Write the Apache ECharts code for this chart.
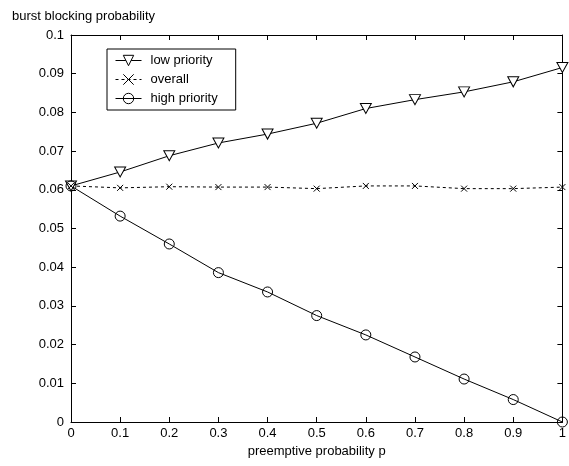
<!DOCTYPE html>
<html><head><meta charset="utf-8">
<script src="https://cdn.jsdelivr.net/npm/echarts@6/dist/echarts.min.js"></script>
<style>html,body{margin:0;padding:0;background:#fff}#c{width:569px;height:466px}</style>
</head><body><div id="c"></div>
<script>
var pValues = [0, 0.1, 0.2, 0.3, 0.4, 0.5, 0.6, 0.7, 0.8, 0.9, 1];
var lowPriority = [0.0610, 0.0646, 0.0688, 0.0721, 0.0744, 0.0772, 0.0810, 0.0833, 0.0853, 0.0879, 0.0916];
var overall = [0.0610, 0.0605, 0.0608, 0.0607, 0.0607, 0.0603, 0.0610, 0.0610, 0.0603, 0.0603, 0.0607];
var highPriority = [0.0610, 0.0532, 0.0460, 0.0386, 0.0336, 0.0275, 0.0225, 0.0168, 0.0111, 0.0058, 0.0000];
var seriesNames = ['low priority', 'overall', 'high priority'];

function pairs(v){ return pValues.map(function(x,i){ return [x, v[i]]; }); }
var font = 'Liberation Sans, Arial, sans-serif';
var chart = echarts.init(document.getElementById('c'), null, {renderer:'canvas'});
var triDown = 'path://M0,0L10,0L5,9Z';
var xMark = 'path://M0,0L10,10M10,0L0,10';
chart.setOption({
  animation:false,
  backgroundColor:'#fff',
  title:{text:'burst blocking probability', left:7, top:5,
    textStyle:{fontFamily:font, fontSize:13, fontWeight:'normal', color:'#000'}},
  legend:{
    data:seriesNames, orient:'vertical', left:107, top:49,
    width:133, padding:[5,18,5,8], itemGap:6, itemWidth:26, itemHeight:13,
    borderColor:'#000', borderWidth:1, backgroundColor:'#fff',
    lineStyle:{width:1},
    itemStyle:{borderWidth:1},
    textStyle:{fontFamily:font, fontSize:13, color:'#000', padding:[0,0,0,4]}
  },
  grid:{left:71, right:6, top:35, bottom:44, containLabel:false, show:false},
  xAxis:[{
    type:'value', min:0, max:1, interval:0.1, position:'bottom',
    name:'preemptive probability p', nameLocation:'middle', nameGap:22,
    nameTextStyle:{fontFamily:font, fontSize:13, color:'#000'},
    axisLine:{onZero:false, lineStyle:{color:'#000', width:1}},
    axisTick:{inside:true, length:5, lineStyle:{color:'#000'}},
    axisLabel:{fontFamily:font, fontSize:13, color:'#000', margin:5,
      formatter:function(v){ return String(+v.toFixed(1)); }},
    splitLine:{show:false}
  },{
    type:'value', min:0, max:1, interval:0.1, position:'top',
    axisLine:{onZero:false, lineStyle:{color:'#000', width:1}},
    axisTick:{inside:true, length:5, lineStyle:{color:'#000'}},
    axisLabel:{show:false}, splitLine:{show:false}
  }],
  yAxis:[{
    type:'value', min:0, max:0.1, interval:0.01, position:'left',
    axisLine:{show:true, onZero:false, lineStyle:{color:'#000', width:1}},
    axisTick:{show:true, inside:true, length:5, lineStyle:{color:'#000'}},
    axisLabel:{fontFamily:font, fontSize:13, color:'#000', margin:7,
      formatter:function(v){ return String(+v.toFixed(2)); }},
    splitLine:{show:false}
  },{
    type:'value', min:0, max:0.1, interval:0.01, position:'right',
    axisLine:{show:true, onZero:false, lineStyle:{color:'#000', width:1}},
    axisTick:{show:true, inside:true, length:5, lineStyle:{color:'#000'}},
    axisLabel:{show:false}, splitLine:{show:false}
  }],
  series:[{
    name:seriesNames[0], type:'line', data:pairs(lowPriority),
    symbol:triDown, symbolSize:[11,10], showAllSymbol:true,
    lineStyle:{color:'#000', width:1},
    itemStyle:{color:'#fff', borderColor:'#000', borderWidth:1}
  },{
    name:seriesNames[1], type:'line', data:pairs(overall),
    symbol:xMark, symbolSize:6, showAllSymbol:true,
    lineStyle:{color:'#000', width:1, type:[3,3]},
    itemStyle:{color:'#000', borderColor:'#000', borderWidth:1}
  },{
    name:seriesNames[2], type:'line', data:pairs(highPriority),
    symbol:'circle', symbolSize:10, showAllSymbol:true,
    lineStyle:{color:'#000', width:1},
    itemStyle:{color:'rgba(255,255,255,0)', borderColor:'#000', borderWidth:1}
  }]
});
</script></body></html>
